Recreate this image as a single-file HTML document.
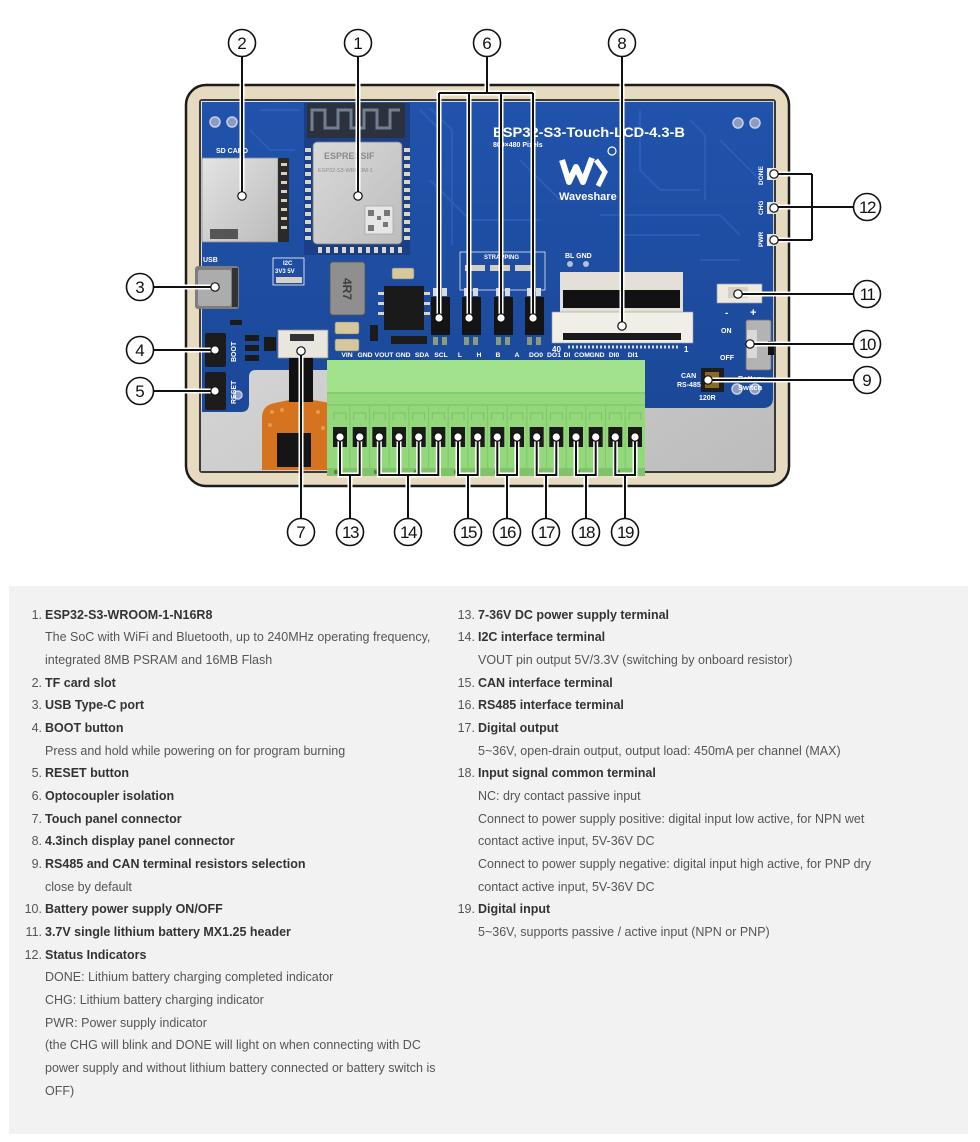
<!DOCTYPE html>
<html><head><meta charset="utf-8">
<style>
html,body{margin:0;padding:0;background:#fff;}
body{width:980px;height:1142px;position:relative;overflow:hidden;font-family:"Liberation Sans",Arial,sans-serif;}
#top{position:absolute;left:0;top:0;}
#panel{position:absolute;left:9px;top:586px;width:959px;height:548px;background:#f2f2f2;}
.l{position:absolute;white-space:nowrap;font-size:12.5px;line-height:22.67px;height:22.67px;color:#555;}
.b{font-weight:bold;color:#333;}
.n{position:absolute;white-space:nowrap;font-size:12.5px;line-height:22.67px;height:22.67px;color:#555;text-align:right;width:30px;}
</style></head>
<body>
<svg id="top" width="980" height="586" viewBox="0 0 980 586" font-family="Liberation Sans, Arial, sans-serif">
<defs>
 <linearGradient id="silv" x1="0" y1="0" x2="1" y2="1">
  <stop offset="0" stop-color="#e4e4e4"/><stop offset="0.5" stop-color="#cfcfcf"/><stop offset="1" stop-color="#bcbcbc"/>
 </linearGradient>
 <linearGradient id="silv2" x1="0" y1="0" x2="1" y2="1">
  <stop offset="0" stop-color="#d9d9d9"/><stop offset="1" stop-color="#bdbdbd"/>
 </linearGradient>
 <linearGradient id="blue" x1="0" y1="0" x2="0" y2="1">
  <stop offset="0" stop-color="#2153ac"/><stop offset="1" stop-color="#1b4898"/>
 </linearGradient>
 <g id="leaders">
  <path d="M242,57 V196 M358,57 V196"/>
  <path d="M487,57 V93 M439,93 H533 M439,93 V318 M469,93 V318 M501,93 V318 M533,93 V318"/>
  <path d="M622,57 V326"/>
  <path d="M154,287 H215 M154,350 H215 M154,391 H215"/>
  <path d="M853,207 H812 M812,174 V240 M812,174 H774 M812,240 H774 M812,207 H774"/>
  <path d="M853,294 H738 M853,344 H750 M853,380 H708"/>
  <path d="M301,518 V351"/>
  <path d="M340,437 V475 H359.7 V437 M350,475 V518"/>
  <path d="M379.3,437 V475 H438.3 V437 M399,437 V475 M418.7,437 V475 M408,475 V518"/>
  <path d="M458,437 V475 H477.7 V437 M468,475 V518"/>
  <path d="M497.3,437 V475 H517 V437 M507,475 V518"/>
  <path d="M536.7,437 V475 H556.3 V437 M546,475 V518"/>
  <path d="M576,437 V475 H595.7 V437 M586,475 V518"/>
  <path d="M615.3,437 V475 H635 V437 M625,475 V518"/>
 </g>
</defs>

<!-- frame -->
<rect x="186" y="85" width="603" height="401" rx="20" fill="#e6dbc1" stroke="#1c1c1c" stroke-width="2.5"/>
<rect x="199" y="99" width="577" height="374" rx="3" fill="#3a3a3a"/>
<rect x="201" y="101" width="573" height="370" fill="url(#silv)"/>

<!-- PCB -->
<path d="M202,102 H773 V398 Q773,408 763,408 H645 V360 H330 V370 H256 Q249,370 249,377 V404 Q249,412 241,412 H202 Z" fill="url(#blue)"/>
<g stroke="#3566c4" stroke-width="2" fill="none" opacity="0.55">
 <path d="M420,110 L440,130 V250"/><path d="M430,108 L452,130 V245"/>
 <path d="M640,110 V170 L660,190 H700"/><path d="M690,120 L705,135 V200"/>
 <path d="M600,215 H720 L740,235"/><path d="M620,235 H700"/>
 <path d="M260,110 H300"/><path d="M250,130 L270,150 H295"/>
 <path d="M430,180 L470,220 H540"/><path d="M520,160 L560,200"/>
 <path d="M720,140 L760,180"/><path d="M700,260 H740"/>
</g>
<!-- mounting holes -->
<g fill="#8a9cc6" stroke="#c8d0e0" stroke-width="1.5">
 <circle cx="215" cy="122" r="5"/><circle cx="232" cy="122" r="5"/>
 <circle cx="738" cy="123" r="5"/><circle cx="755" cy="123" r="5"/>
 <circle cx="737" cy="389" r="5"/><circle cx="755" cy="389" r="5"/>
 <circle cx="238" cy="395" r="4"/>
</g>

<!-- ESP32 module -->
<rect x="304" y="103" width="106" height="152" fill="#1b3f86"/>
<rect x="307" y="103" width="98" height="35" fill="#2b323e"/>
<path d="M312,131 V110 H325 V128 H338 V110 H351 V128 H364 V110 H377 V128 H390 V110 H400" stroke="#737f90" stroke-width="3" fill="none"/>
<rect x="313" y="142" width="89" height="102" rx="4" fill="url(#silv2)" stroke="#7a7a7a" stroke-width="0.8"/>
<g fill="#dcd4c4">
 <rect x="305" y="148" width="6" height="4"/><rect x="305" y="156" width="6" height="4"/><rect x="305" y="164" width="6" height="4"/><rect x="305" y="172" width="6" height="4"/><rect x="305" y="180" width="6" height="4"/><rect x="305" y="188" width="6" height="4"/><rect x="305" y="196" width="6" height="4"/><rect x="305" y="204" width="6" height="4"/><rect x="305" y="212" width="6" height="4"/><rect x="305" y="220" width="6" height="4"/><rect x="305" y="228" width="6" height="4"/><rect x="305" y="236" width="6" height="4"/>
 <rect x="404" y="148" width="6" height="4"/><rect x="404" y="156" width="6" height="4"/><rect x="404" y="164" width="6" height="4"/><rect x="404" y="172" width="6" height="4"/><rect x="404" y="180" width="6" height="4"/><rect x="404" y="188" width="6" height="4"/><rect x="404" y="196" width="6" height="4"/><rect x="404" y="204" width="6" height="4"/><rect x="404" y="212" width="6" height="4"/><rect x="404" y="220" width="6" height="4"/><rect x="404" y="228" width="6" height="4"/><rect x="404" y="236" width="6" height="4"/>
 <rect x="318" y="247" width="4" height="6"/><rect x="326" y="247" width="4" height="6"/><rect x="334" y="247" width="4" height="6"/><rect x="342" y="247" width="4" height="6"/><rect x="350" y="247" width="4" height="6"/><rect x="358" y="247" width="4" height="6"/><rect x="366" y="247" width="4" height="6"/><rect x="374" y="247" width="4" height="6"/><rect x="382" y="247" width="4" height="6"/><rect x="390" y="247" width="4" height="6"/><rect x="398" y="247" width="4" height="6"/>
</g>
<text x="324" y="159" font-size="9" fill="#8a8a8a" font-weight="bold">ESPRESSIF</text>
<text x="318" y="172" font-size="5.5" fill="#8a8a8a">ESP32-S3-WROOM-1</text>
<rect x="365" y="206" width="28" height="28" fill="#e6e6e6" stroke="#9a9a9a" stroke-width="0.6"/>
<path d="M368,210 h6 v6 h-6z M384,210 h6 v6 h-6z M368,225 h6 v6 h-6z M377,216 h4 v4 h-4z M383,222 h5 v5 h-5z" fill="#777"/>

<!-- SD card -->
<text x="216" y="153" font-size="7" font-weight="bold" fill="#fff">SD CARD</text>
<rect x="202" y="158" width="76" height="84" fill="url(#silv)" stroke="#8a8a8a" stroke-width="0.8"/>
<rect x="278" y="158" width="11" height="84" fill="#2a2a2a"/>
<g fill="#d9d0b8"><rect x="281" y="163" width="6" height="3"/><rect x="281" y="172" width="6" height="3"/><rect x="281" y="181" width="6" height="3"/><rect x="281" y="190" width="6" height="3"/><rect x="281" y="199" width="6" height="3"/><rect x="281" y="208" width="6" height="3"/><rect x="281" y="217" width="6" height="3"/><rect x="281" y="226" width="6" height="3"/></g>
<rect x="210" y="229" width="28" height="10" fill="#555"/>

<!-- USB -->
<text x="203" y="262" font-size="7" font-weight="bold" fill="#fff">USB</text>
<rect x="195" y="266" width="44" height="43" rx="3" fill="#7d7d7d"/>
<rect x="198" y="270" width="33" height="36" rx="2" fill="#acacac"/>
<rect x="232" y="268" width="6" height="39" fill="#333"/>
<!-- I2C box -->
<rect x="273" y="258" width="31" height="27" fill="none" stroke="#fff" stroke-width="0.8"/>
<text x="283" y="265" font-size="6" font-weight="bold" fill="#fff">I2C</text>
<text x="275" y="273" font-size="6" font-weight="bold" fill="#fff">3V3 5V</text>
<rect x="276" y="277" width="26" height="6" fill="#d8d0c0"/>

<!-- buttons -->
<rect x="205" y="333" width="21" height="34" rx="2" fill="#1c1c1c"/>
<rect x="205" y="372" width="21" height="38" rx="2" fill="#1c1c1c"/>
<text transform="translate(236,362) rotate(-90)" font-size="7" font-weight="bold" fill="#fff">BOOT</text>
<text transform="translate(236,404) rotate(-90)" font-size="7" font-weight="bold" fill="#fff">RESET</text>
<g fill="#1a1a1a"><rect x="245" y="335" width="14" height="6"/><rect x="245" y="345" width="14" height="6"/><rect x="245" y="355" width="14" height="6"/><rect x="264" y="337" width="12" height="14"/><rect x="230" y="320" width="12" height="5"/></g>

<!-- touch connector & flex -->
<rect x="278" y="330" width="50" height="28" fill="#e9e6df" stroke="#8a8a8a" stroke-width="0.8"/>
<rect x="290" y="334" width="24" height="7" fill="#333"/>
<path d="M262,470 V418 Q262,405 275,403 L289,400 H313 L330,403 V470 Z" fill="#d5731e"/>
<g fill="#e89a4c"><circle cx="272" cy="412" r="2"/><circle cx="282" cy="410" r="2"/><circle cx="318" cy="412" r="2"/><circle cx="270" cy="425" r="2"/><circle cx="323" cy="428" r="2"/></g>
<rect x="289" y="358" width="24" height="44" fill="#111"/>
<rect x="277" y="433" width="34" height="34" fill="#151515"/>

<!-- inductor, caps, chips -->
<rect x="330" y="262" width="35" height="53" rx="3" fill="#8f8f8f" stroke="#555" stroke-width="0.8"/>
<text transform="translate(343,278) rotate(90)" font-size="12" font-weight="bold" fill="#3e3e3e">4R7</text>
<rect x="335" y="322" width="24" height="12" rx="2" fill="#d7c79d" stroke="#777" stroke-width="0.6"/>
<rect x="335" y="339" width="24" height="12" rx="2" fill="#d7c79d" stroke="#777" stroke-width="0.6"/>
<rect x="392" y="268" width="22" height="11" rx="2" fill="#d7c79d" stroke="#777" stroke-width="0.6"/>
<rect x="384" y="286" width="40" height="44" fill="#1a1a1a"/>
<g fill="#dcd4c4"><rect x="378" y="292" width="6" height="3"/><rect x="378" y="302" width="6" height="3"/><rect x="378" y="312" width="6" height="3"/><rect x="424" y="292" width="6" height="3"/><rect x="424" y="302" width="6" height="3"/><rect x="424" y="312" width="6" height="3"/></g>
<g fill="#1c1c1c"><rect x="370" y="325" width="8" height="16"/><rect x="391" y="336" width="36" height="8"/></g>

<!-- STRAPPING -->
<rect x="460" y="252" width="85" height="38" fill="none" stroke="#fff" stroke-width="0.7"/>
<text x="484" y="259" font-size="6" font-weight="bold" fill="#fff">STRAPPING</text>
<g fill="#d6d0c4"><rect x="465" y="265" width="20" height="6"/><rect x="490" y="265" width="20" height="6"/><rect x="515" y="265" width="20" height="6"/></g>
<!-- optocouplers -->
<g fill="#d7dbe0">
 <rect x="433" y="288" width="5" height="8"/><rect x="442" y="288" width="5" height="8"/>
 <rect x="464" y="288" width="5" height="8"/><rect x="473" y="288" width="5" height="8"/>
 <rect x="496" y="288" width="5" height="8"/><rect x="505" y="288" width="5" height="8"/>
 <rect x="527" y="288" width="5" height="8"/><rect x="536" y="288" width="5" height="8"/>
</g>
<g fill="#8a9a7a">
 <rect x="433" y="337" width="5" height="8"/><rect x="442" y="337" width="5" height="8"/>
 <rect x="464" y="337" width="5" height="8"/><rect x="473" y="337" width="5" height="8"/>
 <rect x="496" y="337" width="5" height="8"/><rect x="505" y="337" width="5" height="8"/>
 <rect x="527" y="337" width="5" height="8"/><rect x="536" y="337" width="5" height="8"/>
</g>
<g fill="#141414">
 <rect x="431" y="297" width="19" height="38"/><rect x="462" y="297" width="19" height="38"/>
 <rect x="494" y="297" width="19" height="38"/><rect x="525" y="297" width="19" height="38"/>
</g>

<!-- title & logo -->
<text x="493" y="137" font-size="13.5" font-weight="bold" fill="#fff" textLength="192" lengthAdjust="spacingAndGlyphs">ESP32-S3-Touch-LCD-4.3-B</text>
<text x="493" y="147" font-size="7" font-weight="bold" fill="#fff">800×480 Pixels</text>
<path d="M562,160 L569,182 L576,167 L583,182 L592,158" stroke="#fff" stroke-width="6" fill="none" stroke-linejoin="round"/>
<path d="M596,160 L605,172 L598,186" stroke="#fff" stroke-width="5" fill="none"/>
<circle cx="612" cy="151" r="4" fill="none" stroke="#fff" stroke-width="1.2"/>
<text x="559" y="200" font-size="11" font-weight="bold" fill="#fff">Waveshare</text>

<!-- display FPC -->
<text x="565" y="258" font-size="7" font-weight="bold" fill="#fff">BL GND</text>
<circle cx="570" cy="264" r="3" fill="#b5bfd4"/><circle cx="586" cy="264" r="3" fill="#b5bfd4"/>
<rect x="560" y="272" width="123" height="40" fill="#e4e0d8"/>
<rect x="563" y="290" width="117" height="18" fill="#121212"/>
<rect x="552" y="312" width="141" height="31" fill="#f1eee7" stroke="#999" stroke-width="0.6"/>
<rect x="563" y="333" width="118" height="7" fill="#1a1a1a"/>
<line x1="568" y1="347" x2="678" y2="347" stroke="#d8d8d8" stroke-width="3" stroke-dasharray="2 2"/>
<text x="552" y="352" font-size="8" font-weight="bold" fill="#fff">40</text>
<text x="684" y="352" font-size="8" font-weight="bold" fill="#fff">1</text>

<!-- status LEDs -->
<g fill="#e8e8e8"><rect x="767" y="168" width="9" height="12"/><rect x="767" y="202" width="9" height="12"/><rect x="767" y="234" width="9" height="12"/></g>
<text transform="translate(763,185) rotate(-90)" font-size="6.5" font-weight="bold" fill="#fff">DONE</text>
<text transform="translate(763,215) rotate(-90)" font-size="6.5" font-weight="bold" fill="#fff">CHG</text>
<text transform="translate(763,247) rotate(-90)" font-size="6.5" font-weight="bold" fill="#fff">PWR</text>

<!-- battery connector & switch -->
<rect x="717" y="284" width="45" height="19" fill="#ece9e2" stroke="#999" stroke-width="0.7"/>
<rect x="728" y="287" width="20" height="11" fill="#d6d0c3"/>
<text x="725" y="316" font-size="10" font-weight="bold" fill="#fff">-</text>
<text x="750" y="316" font-size="11" font-weight="bold" fill="#fff">+</text>
<text x="721" y="333" font-size="7" font-weight="bold" fill="#fff">ON</text>
<text x="720" y="360" font-size="7" font-weight="bold" fill="#fff">OFF</text>
<rect x="746" y="320" width="25" height="50" rx="2" fill="#b3b3b3" stroke="#6e6e6e" stroke-width="0.8"/>
<rect x="747" y="330" width="10" height="28" fill="#d9d9d9"/>
<rect x="768" y="341" width="6" height="14" fill="#111"/>
<text x="738" y="381" font-size="7.5" font-weight="bold" fill="#fff">Battery</text>
<text x="738" y="390" font-size="7.5" font-weight="bold" fill="#fff">Switch</text>
<text x="681" y="378" font-size="7" font-weight="bold" fill="#fff">CAN</text>
<text x="677" y="387" font-size="7" font-weight="bold" fill="#fff">RS-485</text>
<rect x="701" y="368" width="23" height="24" fill="#1e1e1e"/>
<rect x="705" y="372" width="14" height="16" fill="#8a6a20"/>
<text x="699" y="400" font-size="7" font-weight="bold" fill="#fff">120R</text>

<!-- terminal labels -->
<g font-size="6.8" font-weight="bold" fill="#fff" text-anchor="middle">
 <text x="347" y="357">VIN</text><text x="365" y="357">GND</text><text x="384" y="357">VOUT</text><text x="403" y="357">GND</text><text x="422" y="357">SDA</text><text x="441" y="357">SCL</text><text x="460" y="357">L</text><text x="479" y="357">H</text><text x="498" y="357">B</text><text x="517" y="357">A</text><text x="536" y="357">DO0</text><text x="554" y="357">DO1</text><text x="567" y="357">DI</text><text x="582" y="357">COM</text><text x="597" y="357">GND</text><text x="614" y="357">DI0</text><text x="633" y="357">DI1</text>
</g>

<!-- green terminal block -->
<rect x="327" y="360" width="318" height="116" fill="#93d97c"/>
<rect x="327" y="360" width="318" height="33" fill="#a3e28c"/>
<rect x="327" y="392" width="318" height="2" fill="#86cb70"/>
<rect x="327" y="404" width="318" height="2" fill="#86cb70"/>
<rect x="327" y="468" width="318" height="8" fill="#80c36a"/>
<g fill="none" stroke="#7dbf67" stroke-width="1">
 <path d="M334,420 V413 H346 V420"/><path d="M353.7,420 V413 H365.7 V420"/><path d="M373.3,420 V413 H385.3 V420"/><path d="M393,420 V413 H405 V420"/><path d="M412.7,420 V413 H424.7 V420"/><path d="M432.3,420 V413 H444.3 V420"/><path d="M452,420 V413 H464 V420"/><path d="M471.7,420 V413 H483.7 V420"/><path d="M491.3,420 V413 H503.3 V420"/><path d="M511,420 V413 H523 V420"/><path d="M530.7,420 V413 H542.7 V420"/><path d="M550.3,420 V413 H562.3 V420"/><path d="M570,420 V413 H582 V420"/><path d="M589.7,420 V413 H601.7 V420"/><path d="M609.3,420 V413 H621.3 V420"/><path d="M629,420 V413 H641 V420"/>
</g>
<g stroke="#84c86e" stroke-width="1.2">
 <line x1="349.8" y1="406" x2="349.8" y2="468"/><line x1="369.5" y1="406" x2="369.5" y2="468"/><line x1="389.2" y1="406" x2="389.2" y2="468"/><line x1="408.8" y1="406" x2="408.8" y2="468"/><line x1="428.5" y1="406" x2="428.5" y2="468"/><line x1="448.2" y1="406" x2="448.2" y2="468"/><line x1="467.8" y1="406" x2="467.8" y2="468"/><line x1="487.5" y1="406" x2="487.5" y2="468"/><line x1="507.2" y1="406" x2="507.2" y2="468"/><line x1="526.8" y1="406" x2="526.8" y2="468"/><line x1="546.5" y1="406" x2="546.5" y2="468"/><line x1="566.2" y1="406" x2="566.2" y2="468"/><line x1="585.8" y1="406" x2="585.8" y2="468"/><line x1="605.5" y1="406" x2="605.5" y2="468"/><line x1="625.2" y1="406" x2="625.2" y2="468"/>
</g>
<g fill="#1a1a1a">
 <rect x="333" y="427" width="14" height="20"/><rect x="352.7" y="427" width="14" height="20"/><rect x="372.3" y="427" width="14" height="20"/><rect x="392" y="427" width="14" height="20"/><rect x="411.7" y="427" width="14" height="20"/><rect x="431.3" y="427" width="14" height="20"/><rect x="451" y="427" width="14" height="20"/><rect x="470.7" y="427" width="14" height="20"/><rect x="490.3" y="427" width="14" height="20"/><rect x="510" y="427" width="14" height="20"/><rect x="529.7" y="427" width="14" height="20"/><rect x="549.3" y="427" width="14" height="20"/><rect x="569" y="427" width="14" height="20"/><rect x="588.7" y="427" width="14" height="20"/><rect x="608.3" y="427" width="14" height="20"/><rect x="628" y="427" width="14" height="20"/>
</g>
<g fill="#4f8a3f">
 <rect x="334" y="470" width="6" height="4"/><rect x="374" y="470" width="6" height="4"/><rect x="414" y="470" width="6" height="4"/><rect x="454" y="470" width="6" height="4"/><rect x="494" y="470" width="6" height="4"/><rect x="534" y="470" width="6" height="4"/><rect x="574" y="470" width="6" height="4"/><rect x="614" y="470" width="6" height="4"/>
</g>

<!-- leader lines -->
<use href="#leaders" stroke="#fff" stroke-width="5" fill="none" stroke-linecap="square"/>
<use href="#leaders" stroke="#111" stroke-width="2" fill="none"/>

<!-- dots -->
<g fill="#fff" stroke="#111" stroke-width="1.2">
 <circle cx="242" cy="196" r="4.2"/><circle cx="358" cy="196" r="4.2"/>
 <circle cx="439" cy="318" r="4.2"/><circle cx="469" cy="318" r="4.2"/><circle cx="501" cy="318" r="4.2"/><circle cx="533" cy="318" r="4.2"/>
 <circle cx="622" cy="326" r="4.2"/>
 <circle cx="215" cy="287" r="4.2"/><circle cx="215" cy="350" r="4.2"/><circle cx="215" cy="391" r="4.2"/>
 <circle cx="774" cy="174" r="4.2"/><circle cx="774" cy="208" r="4.2"/><circle cx="774" cy="240" r="4.2"/>
 <circle cx="738" cy="294" r="4.2"/><circle cx="750" cy="344" r="4.2"/><circle cx="708" cy="380" r="4.2"/>
 <circle cx="301" cy="351" r="4.2"/>
 <circle cx="340" cy="437" r="4.2"/><circle cx="359.7" cy="437" r="4.2"/><circle cx="379.3" cy="437" r="4.2"/><circle cx="399" cy="437" r="4.2"/><circle cx="418.7" cy="437" r="4.2"/><circle cx="438.3" cy="437" r="4.2"/><circle cx="458" cy="437" r="4.2"/><circle cx="477.7" cy="437" r="4.2"/><circle cx="497.3" cy="437" r="4.2"/><circle cx="517" cy="437" r="4.2"/><circle cx="536.7" cy="437" r="4.2"/><circle cx="556.3" cy="437" r="4.2"/><circle cx="576" cy="437" r="4.2"/><circle cx="595.7" cy="437" r="4.2"/><circle cx="615.3" cy="437" r="4.2"/><circle cx="635" cy="437" r="4.2"/>
</g>

<!-- callout circles -->
<g fill="#fff" stroke="#111" stroke-width="1.6">
 <circle cx="242" cy="43" r="13.5"/><circle cx="358" cy="43" r="13.5"/><circle cx="487" cy="43" r="13.5"/><circle cx="622" cy="43" r="13.5"/>
 <circle cx="140" cy="287" r="13.5"/><circle cx="140" cy="350" r="13.5"/><circle cx="140" cy="391" r="13.5"/>
 <circle cx="867" cy="207" r="13.5"/><circle cx="867" cy="294" r="13.5"/><circle cx="867" cy="344" r="13.5"/><circle cx="867" cy="380" r="13.5"/>
 <circle cx="301" cy="532" r="13.5"/><circle cx="350" cy="532" r="13.5"/><circle cx="408" cy="532" r="13.5"/><circle cx="468" cy="532" r="13.5"/><circle cx="507" cy="532" r="13.5"/><circle cx="546" cy="532" r="13.5"/><circle cx="586" cy="532" r="13.5"/><circle cx="625" cy="532" r="13.5"/>
</g>
<g font-size="17" fill="#111" text-anchor="middle">
 <text x="242" y="49">2</text><text x="358" y="49">1</text><text x="487" y="49">6</text><text x="622" y="49">8</text>
 <text x="140" y="293">3</text><text x="140" y="356">4</text><text x="140" y="397">5</text>
 <text x="867" y="213" letter-spacing="-1.5">12</text><text x="867" y="300" letter-spacing="-1.5">11</text><text x="867" y="350" letter-spacing="-1.5">10</text><text x="867" y="386">9</text>
 <text x="301" y="538">7</text>
 <text x="350" y="538" letter-spacing="-1.5">13</text><text x="408" y="538" letter-spacing="-1.5">14</text><text x="468" y="538" letter-spacing="-1.5">15</text><text x="507" y="538" letter-spacing="-1.5">16</text><text x="546" y="538" letter-spacing="-1.5">17</text><text x="586" y="538" letter-spacing="-1.5">18</text><text x="625" y="538" letter-spacing="-1.5">19</text>
</g>
</svg>

<div id="panel"></div>

<!-- left column -->
<div class="n" style="left:12px;top:603.7px">1.</div><div class="l b" style="left:45px;top:603.7px">ESP32-S3-WROOM-1-N16R8</div>
<div class="l" style="left:45px;top:626.3px">The SoC with WiFi and Bluetooth, up to 240MHz operating frequency,</div>
<div class="l" style="left:45px;top:649px">integrated 8MB PSRAM and 16MB Flash</div>
<div class="n" style="left:12px;top:671.7px">2.</div><div class="l b" style="left:45px;top:671.7px">TF card slot</div>
<div class="n" style="left:12px;top:694.3px">3.</div><div class="l b" style="left:45px;top:694.3px">USB Type-C port</div>
<div class="n" style="left:12px;top:717px">4.</div><div class="l b" style="left:45px;top:717px">BOOT button</div>
<div class="l" style="left:45px;top:739.7px">Press and hold while powering on for program burning</div>
<div class="n" style="left:12px;top:762.4px">5.</div><div class="l b" style="left:45px;top:762.4px">RESET button</div>
<div class="n" style="left:12px;top:785px">6.</div><div class="l b" style="left:45px;top:785px">Optocoupler isolation</div>
<div class="n" style="left:12px;top:807.7px">7.</div><div class="l b" style="left:45px;top:807.7px">Touch panel connector</div>
<div class="n" style="left:12px;top:830.4px">8.</div><div class="l b" style="left:45px;top:830.4px">4.3inch display panel connector</div>
<div class="n" style="left:12px;top:853px">9.</div><div class="l b" style="left:45px;top:853px">RS485 and CAN terminal resistors selection</div>
<div class="l" style="left:45px;top:875.7px">close by default</div>
<div class="n" style="left:12px;top:898.4px">10.</div><div class="l b" style="left:45px;top:898.4px">Battery power supply ON/OFF</div>
<div class="n" style="left:12px;top:921.1px">11.</div><div class="l b" style="left:45px;top:921.1px">3.7V single lithium battery MX1.25 header</div>
<div class="n" style="left:12px;top:943.7px">12.</div><div class="l b" style="left:45px;top:943.7px">Status Indicators</div>
<div class="l" style="left:45px;top:966.4px">DONE: Lithium battery charging completed indicator</div>
<div class="l" style="left:45px;top:989.1px">CHG: Lithium battery charging indicator</div>
<div class="l" style="left:45px;top:1011.7px">PWR: Power supply indicator</div>
<div class="l" style="left:45px;top:1034.4px">(the CHG will blink and DONE will light on when connecting with DC</div>
<div class="l" style="left:45px;top:1057.1px">power supply and without lithium battery connected or battery switch is</div>
<div class="l" style="left:45px;top:1079.8px">OFF)</div>

<!-- right column -->
<div class="n" style="left:445px;top:603.7px">13.</div><div class="l b" style="left:478px;top:603.7px">7-36V DC power supply terminal</div>
<div class="n" style="left:445px;top:626.3px">14.</div><div class="l b" style="left:478px;top:626.3px">I2C interface terminal</div>
<div class="l" style="left:478px;top:649px">VOUT pin output 5V/3.3V (switching by onboard resistor)</div>
<div class="n" style="left:445px;top:671.7px">15.</div><div class="l b" style="left:478px;top:671.7px">CAN interface terminal</div>
<div class="n" style="left:445px;top:694.3px">16.</div><div class="l b" style="left:478px;top:694.3px">RS485 interface terminal</div>
<div class="n" style="left:445px;top:717px">17.</div><div class="l b" style="left:478px;top:717px">Digital output</div>
<div class="l" style="left:478px;top:739.7px">5~36V, open-drain output, output load: 450mA per channel (MAX)</div>
<div class="n" style="left:445px;top:762.4px">18.</div><div class="l b" style="left:478px;top:762.4px">Input signal common terminal</div>
<div class="l" style="left:478px;top:785px">NC: dry contact passive input</div>
<div class="l" style="left:478px;top:807.7px">Connect to power supply positive: digital input low active, for NPN wet</div>
<div class="l" style="left:478px;top:830.4px">contact active input, 5V-36V DC</div>
<div class="l" style="left:478px;top:853px">Connect to power supply negative: digital input high active, for PNP dry</div>
<div class="l" style="left:478px;top:875.7px">contact active input, 5V-36V DC</div>
<div class="n" style="left:445px;top:898.4px">19.</div><div class="l b" style="left:478px;top:898.4px">Digital input</div>
<div class="l" style="left:478px;top:921.1px">5~36V, supports passive / active input (NPN or PNP)</div>
</body></html>
